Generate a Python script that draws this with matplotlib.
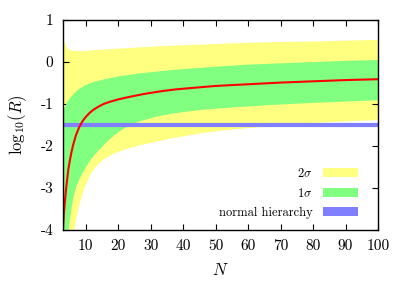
import matplotlib
matplotlib.use("Agg")
import matplotlib.pyplot as plt
from matplotlib.patches import Patch
import numpy as np

plt.rcParams['mathtext.fontset'] = 'cm'
plt.rcParams['font.family'] = 'serif'
plt.rcParams['font.serif'] = ['cmr10', 'DejaVu Serif']
plt.rcParams['axes.unicode_minus'] = False

# 2 sigma band (yellow)
n_y2up = [3.0, 3.25, 3.5, 4.0, 4.5, 5.0, 5.6, 7.0, 9.0, 12.0, 16.0, 20.0, 26.5, 33.0,
          40.0, 50.0, 60.0, 70.0, 80.0, 90.0, 100.0]
y2_up = [0.64, 0.52, 0.45, 0.36, 0.32, 0.30, 0.28, 0.27, 0.27, 0.29, 0.31, 0.33, 0.36, 0.39,
         0.41, 0.44, 0.47, 0.49, 0.50, 0.52, 0.54]
n_y2lo = [3.0, 6.3, 7.0, 8.1, 9.5, 11.2, 13.0, 15.3, 18.5, 22.4, 26.5, 30.0, 36.8, 44.0,
          52.0, 60.0, 70.0, 80.0, 90.0, 100.0]
y2_lo = [-4.0, -4.0, -3.68, -3.32, -2.97, -2.68, -2.48, -2.31, -2.17, -2.06, -1.97, -1.91,
         -1.80, -1.70, -1.62, -1.56, -1.50, -1.44, -1.40, -1.37]

# 1 sigma band (green)
n_y1up = [3.0, 3.5, 4.0, 5.0, 6.0, 7.0, 8.0, 10.0, 12.5, 15.0, 17.5, 20.0, 26.5, 35.0,
          42.0, 50.0, 60.0, 70.0, 80.0, 90.0, 100.0]
y1_up = [-1.14, -1.05, -0.97, -0.85, -0.76, -0.68, -0.62, -0.53, -0.46, -0.41, -0.37, -0.33,
         -0.26, -0.19, -0.145, -0.10, -0.05, -0.02, 0.01, 0.04, 0.06]
n_y1lo = [3.0, 4.5, 5.5, 6.2, 7.1, 8.5, 10.2, 12.0, 14.3, 17.0, 20.0, 23.0, 26.5, 32.0,
          38.0, 45.0, 55.0, 65.0, 80.0, 100.0]
y1_lo = [-4.0, -4.0, -3.45, -3.17, -2.92, -2.68, -2.45, -2.25, -2.05, -1.84, -1.65, -1.51,
         -1.40, -1.28, -1.20, -1.13, -1.07, -1.02, -0.96, -0.90]

# central value (red)
n_c = [3.0, 3.25, 3.5, 3.85, 4.2, 4.6, 5.1, 5.6, 6.1, 7.0, 8.0, 9.0, 10.0, 11.2, 12.5,
       14.0, 15.5, 17.3, 20.0, 23.5, 28.0, 33.7, 38.0, 43.9, 50.0, 60.0, 70.0, 80.0,
       90.0, 100.0]
y_c = [-3.98, -3.65, -3.40, -3.10, -2.85, -2.58, -2.35, -2.15, -1.98, -1.74, -1.55, -1.41,
       -1.31, -1.21, -1.13, -1.06, -1.00, -0.95, -0.89, -0.83, -0.76, -0.69, -0.65, -0.61,
       -0.57, -0.53, -0.49, -0.46, -0.43, -0.41]

# normal hierarchy level
nh_level = -1.5

xticks = [10, 20, 30, 40, 50, 60, 70, 80, 90, 100]
xticklabels = ['10', '20', '30', '40', '50', '60', '70', '80', '90', '100']
yticks = [-4, -3, -2, -1, 0, 1]
yticklabels = ['-4', '-3', '-2', '-1', '0', '1']
legend_labels = [r'2$\sigma$', r'1$\sigma$', 'normal hierarchy']

c_yellow = '#ffff80'
c_green = '#80ff80'
c_blue = '#8080ff'

fig = plt.figure(figsize=(4.09, 2.86), dpi=100)
ax = fig.add_axes([63/409, 1-230/286, (378-63)/409, (230-20)/286])

xs = np.array(sorted(set(n_y2up + n_y2lo)))
ax.fill_between(xs, np.interp(xs, n_y2lo, y2_lo), np.interp(xs, n_y2up, y2_up),
                color=c_yellow, lw=0, zorder=1)
xs1 = np.array(sorted(set(n_y1up + n_y1lo)))
ax.fill_between(xs1, np.interp(xs1, n_y1lo, y1_lo), np.interp(xs1, n_y1up, y1_up),
                color=c_green, lw=0, zorder=2)
ax.axhline(nh_level, color=c_blue, lw=3, zorder=3)
ax.plot(n_c, y_c, color='red', lw=1.5, zorder=4)

ax.set_xlim(3, 100)
ax.set_ylim(-4, 1)
ax.set_xticks(xticks)
ax.set_xticklabels(xticklabels)
ax.set_yticks(yticks)
ax.set_yticklabels(yticklabels)
ax.tick_params(direction='in', length=4, width=0.8, top=True, right=True,
               labelsize=11, pad=7)
for s in ax.spines.values():
    s.set_linewidth(1.0)
    s.set_zorder(10)

ax.set_xlabel(r'$N$', fontsize=12, labelpad=6)
ax.set_ylabel(r'$\mathrm{log}_{10}(R)$', fontsize=12, labelpad=8)

handles = [Patch(facecolor=c_yellow, edgecolor='none'),
           Patch(facecolor=c_green, edgecolor='none'),
           Patch(facecolor=c_blue, edgecolor='none')]
leg = ax.legend(handles, legend_labels, loc='lower right', frameon=False,
                markerfirst=False, fontsize=9, handlelength=2.8, handleheight=0.8,
                handletextpad=0.8, labelspacing=0.55, borderpad=0,
                bbox_to_anchor=(1 - 14/315, 5/210))

fig.savefig('out.png', dpi=100)
